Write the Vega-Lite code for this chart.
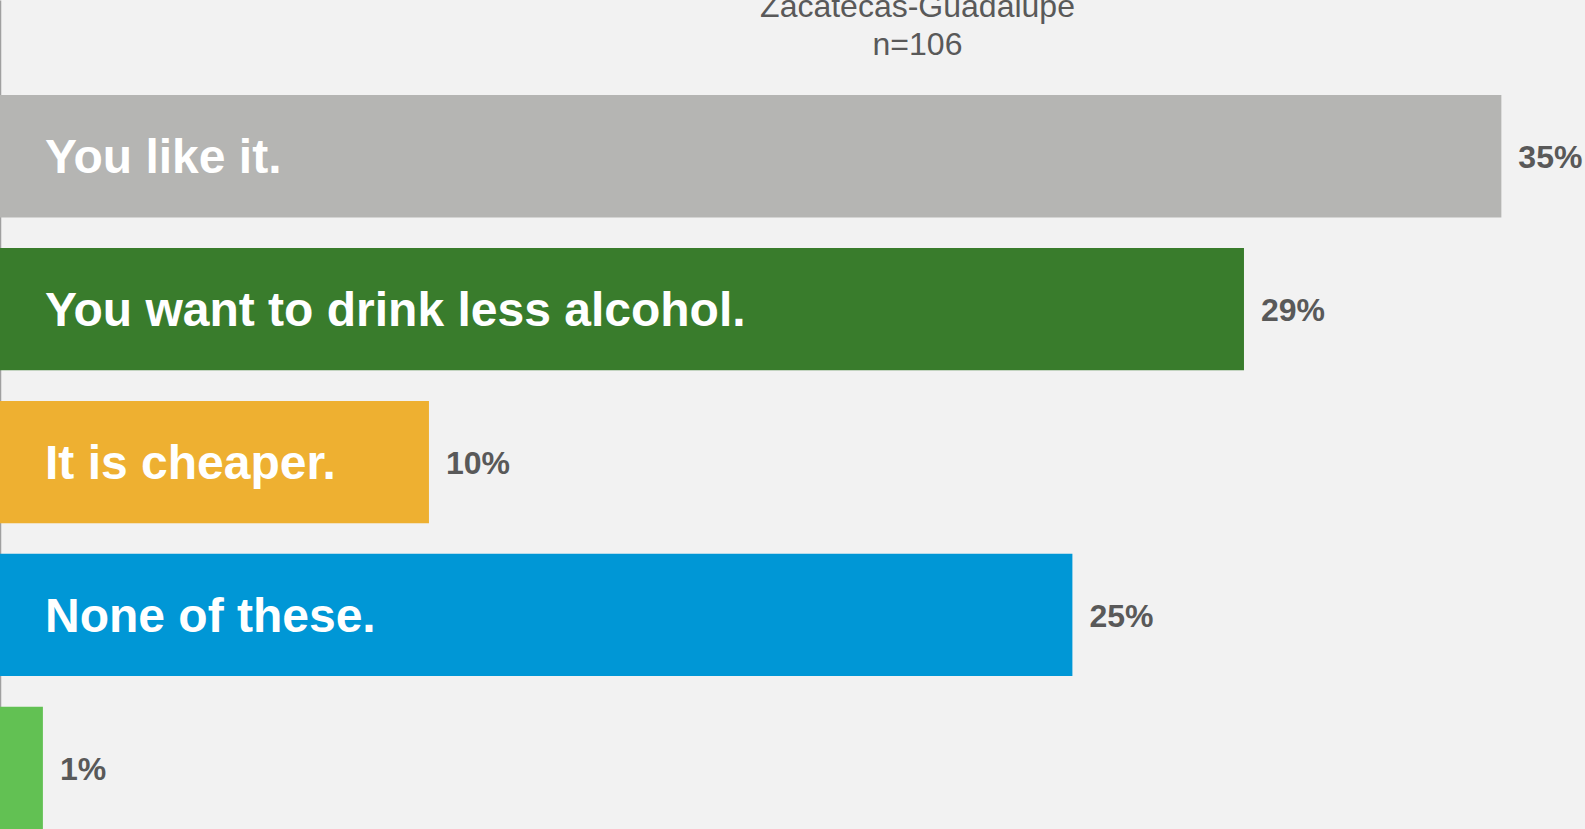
{
  "$schema": "https://vega.github.io/schema/vega-lite/v6.json",
  "width": 1585,
  "height": 829,
  "autosize": "none",
  "padding": 0,
  "background": "#f2f2f2",
  "title": {
    "text": ["Zacatecas-Guadalupe", "n=106"],
    "anchor": "middle",
    "dx": 125,
    "offset": -62,
    "fontSize": 32,
    "fontWeight": "normal",
    "font": "Liberation Sans",
    "color": "#595959",
    "lineHeight": 38
  },
  "config": {
    "font": "Liberation Sans",
    "view": {"stroke": null}
  },
  "data": {
    "values": [
      {"label": "You like it.", "pct": 0.35},
      {"label": "You want to drink less alcohol.", "pct": 0.29},
      {"label": "It is cheaper.", "pct": 0.10},
      {"label": "None of these.", "pct": 0.25},
      {"label": "", "pct": 0.01}
    ]
  },
  "encoding": {
    "y": {
      "field": "label",
      "type": "nominal",
      "sort": null,
      "scale": {"paddingInner": 0.2, "paddingOuter": 0.311, "align": 1},
      "axis": {"labels": false, "ticks": false, "title": null, "domain": true, "domainColor": "#a0a0a0", "domainWidth": 1.5}
    }
  },
  "layer": [
    {
      "mark": {"type": "bar"},
      "encoding": {
        "x": {
          "field": "pct",
          "type": "quantitative",
          "scale": {"domain": [0, 0.3695], "nice": false},
          "axis": null
        },
        "color": {
          "field": "label",
          "type": "nominal",
          "sort": null,
          "scale": {"range": ["#b5b5b3", "#397c2c", "#eeb031", "#0097d6", "#62c153"]},
          "legend": null
        }
      }
    },
    {
      "mark": {"type": "text", "align": "left", "baseline": "middle", "dx": 45, "dy": 3, "fontSize": 48, "fontWeight": "bold", "color": "#ffffff"},
      "encoding": {
        "x": {"datum": 0, "type": "quantitative"},
        "text": {"field": "label"}
      }
    },
    {
      "mark": {"type": "text", "align": "left", "baseline": "middle", "dx": 17, "dy": 2, "fontSize": 32, "fontWeight": "bold", "color": "#595959"},
      "encoding": {
        "x": {"field": "pct", "type": "quantitative"},
        "text": {"field": "pct", "format": ".0%"}
      }
    }
  ]
}
